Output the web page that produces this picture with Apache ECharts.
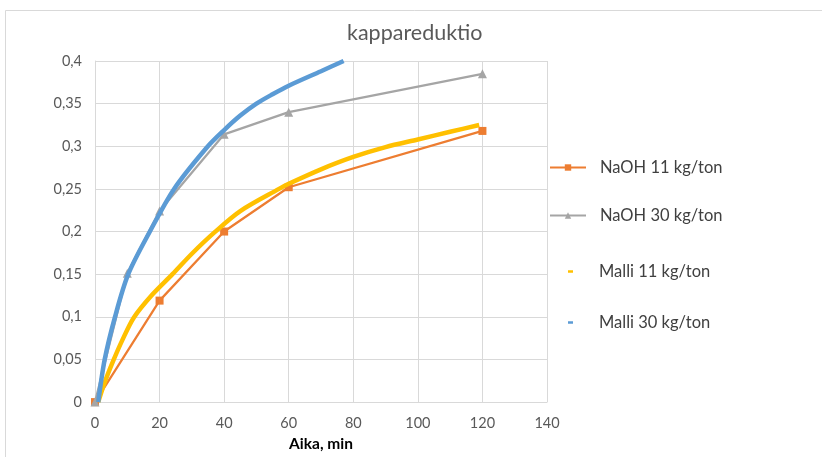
<!DOCTYPE html>
<html>
<head>
<meta charset="utf-8">
<script src="https://cdn.jsdelivr.net/npm/echarts@6/dist/echarts.min.js"></script>
<style>
html,body{margin:0;padding:0;background:#fff;}
#chart{width:822px;height:457px;}
</style>
</head>
<body>
<div id="chart"></div>
<script>
const titleText = 'kappareduktio';
const xAxisName = 'Aika, min';
const seriesNames = ['NaOH 11 kg/ton', 'NaOH 30 kg/ton', 'Malli 11 kg/ton', 'Malli 30 kg/ton'];

const naoh11X = [0, 20, 40, 60, 120];
const naoh11Y = [0, 0.119, 0.2, 0.252, 0.318];

const naoh30X = [0, 10, 20, 40, 60, 120];
const naoh30Y = [0, 0.151, 0.224, 0.314, 0.34, 0.385];

const malli11X = [1, 3, 5.6, 8.5, 12, 17.5, 24, 30, 37, 45, 57, 60, 70, 80, 90, 100, 110, 119];
const malli11Y = [0, 0.023, 0.048, 0.073, 0.099, 0.125, 0.15, 0.174, 0.199, 0.224, 0.25, 0.256, 0.273, 0.2875, 0.299, 0.308, 0.317, 0.325];

const malli30X = [1, 3, 6.2, 10.3, 17, 24.5, 34.5, 40, 45, 50, 55, 60, 70, 77];
const malli30Y = [0, 0.05, 0.1, 0.15, 0.2, 0.25, 0.298, 0.319, 0.336, 0.35, 0.361, 0.371, 0.388, 0.4];

const xTicks = { min: 0, max: 140, interval: 20 };
const yTicks = { min: 0, max: 0.4, interval: 0.05 };

function pairs(xs, ys) { return xs.map((x, i) => [x, ys[i]]); }

const FONT = 'Lato, "Open Sans", "Liberation Sans", sans-serif';
const legendText = { color: '#404040', fontSize: 16.5, fontFamily: FONT };

const chart = echarts.init(document.getElementById('chart'), null, { renderer: 'canvas' });
chart.setOption({
  animation: false,
  backgroundColor: '#fff',
  title: {
    text: titleText,
    left: 347,
    top: 22,
    padding: 0,
    textStyle: { color: '#595959', fontSize: 21.5, fontWeight: 'normal', fontFamily: FONT }
  },
  graphic: [{
    type: 'rect',
    shape: { x: 5.5, y: 10.5, width: 900, height: 600 },
    style: { fill: 'none', stroke: '#D9D9D9', lineWidth: 1 },
    silent: true
  }],
  grid: { left: 95, right: 275, top: 61, bottom: 49, containLabel: false },
  xAxis: {
    type: 'value',
    min: xTicks.min, max: xTicks.max, interval: xTicks.interval,
    name: xAxisName,
    nameLocation: 'middle',
    nameGap: 33,
    nameTextStyle: { color: '#000', fontSize: 15.5, fontWeight: 'bold', fontFamily: FONT },
    axisLine: { show: true, lineStyle: { color: '#D9D9D9', width: 1 } },
    axisTick: { show: false },
    axisLabel: { color: '#595959', fontSize: 14.5, margin: 14, fontFamily: FONT },
    splitLine: { show: true, lineStyle: { color: '#D9D9D9', width: 1 } }
  },
  yAxis: {
    type: 'value',
    min: yTicks.min, max: yTicks.max, interval: yTicks.interval,
    axisLine: { show: true, lineStyle: { color: '#D9D9D9', width: 1 } },
    axisTick: { show: false },
    axisLabel: {
      color: '#595959', fontSize: 14.5, margin: 13, fontFamily: FONT,
      formatter: v => String(+v.toFixed(2)).replace('.', ',')
    },
    splitLine: { show: true, lineStyle: { color: '#D9D9D9', width: 1 } }
  },
  legend: [
    { data: [seriesNames[0]], orient: 'vertical', left: 549, top: 159, padding: 0, itemWidth: 36, itemHeight: 8, textStyle: Object.assign({ padding: [0, 0, 0, 9] }, legendText) },
    { data: [seriesNames[1]], orient: 'vertical', left: 549, top: 207, padding: 0, itemWidth: 36, itemHeight: 8, textStyle: Object.assign({ padding: [0, 0, 0, 9] }, legendText) },
    { data: [{ name: seriesNames[2], icon: 'rect' }], orient: 'vertical', left: 568, top: 263, padding: 0, itemWidth: 5, itemHeight: 2.5, textStyle: Object.assign({ padding: [0, 0, 0, 21] }, legendText) },
    { data: [{ name: seriesNames[3], icon: 'rect' }], orient: 'vertical', left: 568, top: 314, padding: 0, itemWidth: 5, itemHeight: 2.5, textStyle: Object.assign({ padding: [0, 0, 0, 21] }, legendText) }
  ],
  series: [
    {
      name: seriesNames[0], type: 'line', data: pairs(naoh11X, naoh11Y),
      symbol: 'rect', symbolSize: 8, color: '#ED7D31',
      lineStyle: { width: 2.25, color: '#ED7D31' }, itemStyle: { color: '#ED7D31' }, z: 2
    },
    {
      name: seriesNames[1], type: 'line', data: pairs(naoh30X, naoh30Y),
      symbol: 'triangle', symbolSize: 9, color: '#A5A5A5',
      lineStyle: { width: 2.25, color: '#A5A5A5' }, itemStyle: { color: '#A5A5A5' }, z: 3
    },
    {
      name: seriesNames[2], type: 'line', data: pairs(malli11X, malli11Y),
      smooth: 0.3, showSymbol: false, symbol: 'rect', color: '#FFC000',
      lineStyle: { width: 4.5, color: '#FFC000' }, itemStyle: { color: '#FFC000' }, z: 4
    },
    {
      name: seriesNames[3], type: 'line', data: pairs(malli30X, malli30Y),
      smooth: 0.3, showSymbol: false, symbol: 'rect', color: '#5B9BD5',
      lineStyle: { width: 4.5, color: '#5B9BD5' }, itemStyle: { color: '#5B9BD5' }, z: 5
    }
  ]
});
</script>
</body>
</html>
